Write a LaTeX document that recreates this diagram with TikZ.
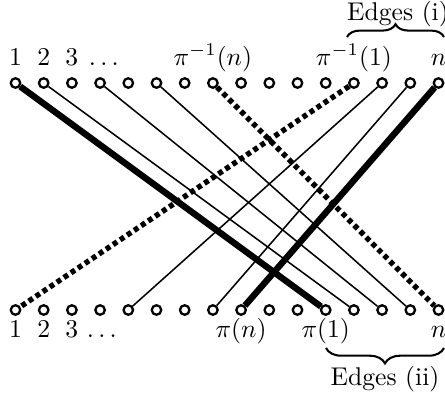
\documentclass[tikz,border=0pt]{standalone}
\usepackage{tikz}
\usetikzlibrary{decorations.pathreplacing}
\usepackage{amsmath, amssymb}

\begin{document}
\begin{tikzpicture}[x=0.39pt, y=0.39pt,
	vtx/.style={circle, draw, line width=0.9pt, fill=white, inner sep=0pt, minimum size=3.7pt},
	thin edge/.style={line width=0.6pt},
	thick edge/.style={line width=2.5pt},
	dot edge/.style={line width=2.1pt, dash pattern=on 1.9pt off 1.4pt}]
	\useasboundingbox (0, 0) rectangle (445, 394);
	
	% the two rows
	\foreach \i in {0,...,15} {
		\node[vtx] (t\i) at ({15.5+28.2*\i}, 311) {};
		\node[vtx] (b\i) at ({15.5+28.2*\i}, 84) {};
	}
	
	\foreach \i/\txt in {0/1, 1/2, 2/3, 7/\pi^{-1}(n), 12/\pi^{-1}(1), 15/n} {
		\node[anchor=base] (lt\i) at ({15.5+28.2*\i}, 329) {$\txt$};
	}
	\node[anchor=base] (lt3) at (106, 329) {$\dots$};
	\foreach \i/\txt in {0/1, 1/2, 2/3, 8/\pi(n), 11/\pi(1), 15/n} {
		\node[anchor=base] (lb\i) at ({15.5+28.2*\i}, 57) {$\txt$};
	}
	\node[anchor=base] (lb3) at (104, 57) {$\dots$};
	
	\foreach \a/\b in {1/12, 3/13, 5/14, 13/4, 14/7} {\draw[thin edge] (t\a) -- (b\b);}
	\draw[thick edge] (t0) -- (b11);
	\draw[thick edge] (t15) -- (b8);
	\draw[dot edge] (t7) -- (b15);
	\draw[dot edge] (t12) -- (b0);
	
	% braces
	\draw[line width=0.8pt, decorate, decoration={brace, amplitude=5pt}] (347, 357) -- (444, 357);
	\node[anchor=base] (ei) at (398, 374) {Edges (i)};
	\draw[line width=0.8pt, decorate, decoration={brace, amplitude=6pt}] (444, 46) -- (326, 46);
	\node[anchor=base] (eii) at (385, 9) {Edges (ii)};
\end{tikzpicture}
\end{document}
